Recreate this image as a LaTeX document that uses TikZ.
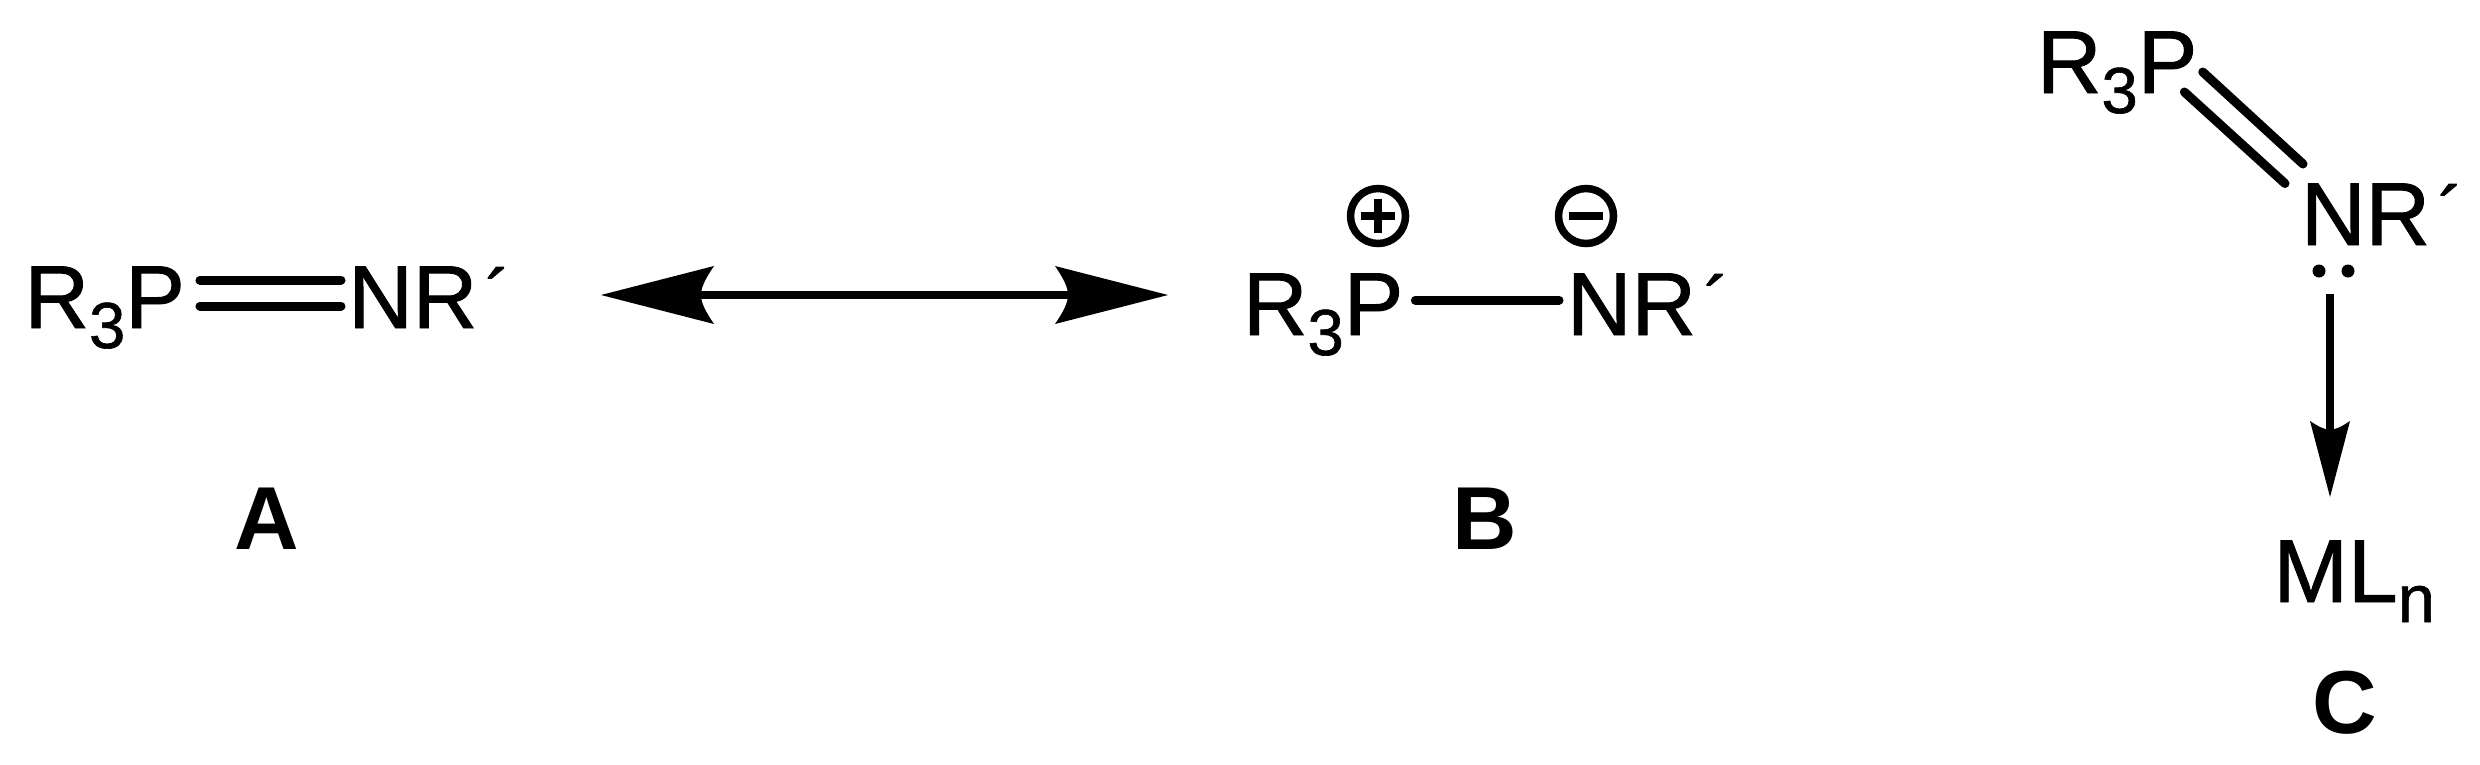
\documentclass[tikz,border=0pt]{standalone}
\usepackage{fontspec}
\usetikzlibrary{arrows.meta}
\setmainfont{Liberation Sans}
\newfontfamily\heavyf[FakeBold=1]{Liberation Sans}
\newcommand{\chemf}{\fontsize{89.4}{100}\selectfont}
\newcommand{\subf}{\fontsize{65}{70}\selectfont}
\newcommand{\nsubf}{\fontsize{67}{70}\selectfont}
\newcommand{\rthree}{R\lower20pt\hbox{\subf 3}P}
\newcommand{\nrprime}{NR\kern8pt\raise5pt\hbox{\fontsize{76}{80}\selectfont ´}}
\makeatletter
\pgfdeclarearrow{
  name = ChemHead,
  parameters = {\the\pgfarrowlength,\the\pgfarrowwidth},
  setup code = {
    \pgfarrowssettipend{0pt}
    \pgfarrowssetlineend{-.8\pgfarrowlength}
    \pgfarrowssetvisualbackend{-.8\pgfarrowlength}
    \pgfarrowssetbackend{-\pgfarrowlength}
    \pgfarrowshullpoint{0pt}{0pt}
    \pgfarrowsupperhullpoint{-\pgfarrowlength}{.5\pgfarrowwidth}
    \pgfarrowssavethe\pgfarrowlength
    \pgfarrowssavethe\pgfarrowwidth
  },
  drawing code = {
    \pgfpathmoveto{\pgfqpoint{0pt}{0pt}}
    \pgfpathlineto{\pgfpoint{-\pgfarrowlength}{.5\pgfarrowwidth}}
    \pgfpathcurveto{\pgfpoint{-.93\pgfarrowlength}{.3\pgfarrowwidth}}{\pgfpoint{-.885\pgfarrowlength}{.14\pgfarrowwidth}}{\pgfpoint{-.885\pgfarrowlength}{0pt}}
    \pgfpathcurveto{\pgfpoint{-.885\pgfarrowlength}{-.14\pgfarrowwidth}}{\pgfpoint{-.93\pgfarrowlength}{-.3\pgfarrowwidth}}{\pgfpoint{-\pgfarrowlength}{-.5\pgfarrowwidth}}
    \pgfpathclose
    \pgfusepathqfill
  },
  defaults = {length=96pt,width=58pt}
}
\makeatother
\tikzset{
  atoms/.style={inner sep=0pt,outer sep=0pt,anchor=base west,font=\heavyf\chemf},
  tag/.style={inner sep=0pt,outer sep=0pt,anchor=base west,font=\chemf\bfseries},
  bond/.style={line width=9pt,line cap=round},
  shaft/.style={line width=8.5pt},
  charge/.style={circle,draw,line width=7.5pt,minimum size=55pt,inner sep=0pt},
  sign/.style={line width=7.5pt},
  pairdot/.style={circle,fill,minimum size=13pt,inner sep=0pt}
}
\begin{document}
\begin{tikzpicture}[x=1pt,y=-1pt]
\useasboundingbox (0,0) rectangle (2480,764);
\fill[white] (0,0) rectangle (2480,764);
% A
\node[atoms] (al) at (24.6,328) {\rthree};
\node[atoms] (ar) at (348.3,328) {\nrprime};
\node[tag] (at) at (234,549) {A};
\draw[bond] ([shift={(15,-48)}]al.base east) -- ([shift={(-7.3,-48)}]ar.base west);
\draw[bond] ([shift={(15,-22)}]al.base east) -- ([shift={(-7.3,-22)}]ar.base west);
% resonance arrow
\coordinate (arrl) at (601,295);
\coordinate (arrr) at (1168,295);
\draw[shaft,{ChemHead[length=113pt,width=58pt]}-{ChemHead[length=113pt,width=58pt]}] (arrl) -- (arrr);
% B
\node[atoms] (bl) at (1243,335) {\rthree};
\node[atoms] (br) at (1567,335) {\nrprime};
\node[tag] (bt) at (1452.5,549) {B};
\draw[bond] ([shift={(12,-35)}]bl.base east) -- ([shift={(-8,-35)}]br.base west);
\node[charge] (plus) at (1378,216) {};
\draw[sign] ([xshift=-17pt]plus.center) -- ([xshift=17pt]plus.center);
\draw[sign] ([yshift=-17pt]plus.center) -- ([yshift=17pt]plus.center);
\node[charge] (minus) at (1586,216) {};
\draw[sign] ([xshift=-17pt]minus.center) -- ([xshift=17pt]minus.center);
% C
\node[atoms] (cl) at (2037,93) {\rthree};
\node[atoms] (cr) at (2301,245) {\nrprime};
\draw[bond] ([shift={(5.4,-21)}]cl.base east) -- ([shift={(2,-81)}]cr.base west);
\draw[bond] ([shift={(-13,-1)}]cl.base east) -- ([shift={(-16,-61.5)}]cr.base west);
\node[pairdot] (d1) at (2319,271) {};
\node[pairdot] (d2) at (2348,271) {};
\node[atoms] (cm) at (2273.5,602) {ML\lower20pt\hbox{\nsubf n}};
\node[tag] (ct) at (2312.7,733) {C};
\coordinate (cstart) at (2330,294);
\coordinate (cend) at (2330,497);
\draw[shaft,-{ChemHead[length=76pt,width=40pt]}] (cstart) -- (cend);
\end{tikzpicture}
\end{document}
